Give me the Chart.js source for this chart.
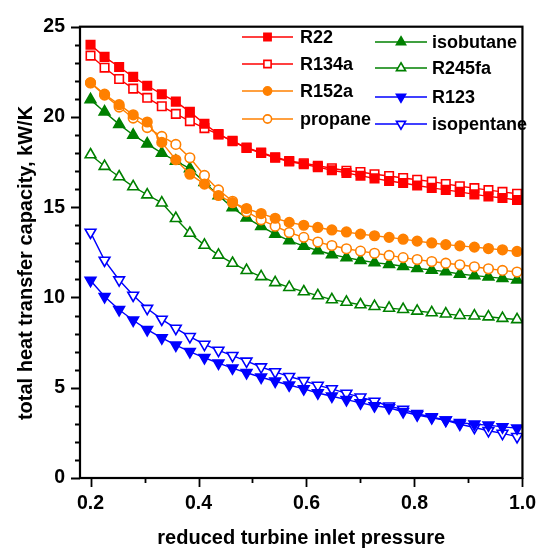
<!DOCTYPE html>
<html>
<head>
<meta charset="utf-8">
<script src="https://cdn.jsdelivr.net/npm/chart.js@4/dist/chart.umd.min.js"></script>
<style>
  html, body { margin: 0; padding: 0; background: #fff; }
  #wrap { width: 550px; height: 551px; }
</style>
</head>
<body>
<div id="wrap"><canvas id="ht_chart" width="550" height="551"></canvas></div>
<script>
// reduced turbine inlet pressure
const pressure = [0.200, 0.226, 0.253, 0.279, 0.305, 0.332, 0.358, 0.384, 0.411, 0.437,
  0.463, 0.489, 0.516, 0.542, 0.568, 0.595, 0.621, 0.647, 0.674, 0.700,
  0.726, 0.753, 0.779, 0.805, 0.832, 0.858, 0.884, 0.911, 0.937, 0.963, 0.990];

// total heat transfer capacity, kW/K
const r22 = [24.0, 23.33, 22.77, 22.22, 21.73, 21.26, 20.85, 20.28, 19.62, 19.05,
  18.65, 18.28, 18.0, 17.74, 17.53, 17.38, 17.22, 17.05, 16.9, 16.74,
  16.6, 16.45, 16.34, 16.2, 16.07, 15.96, 15.85, 15.71, 15.6, 15.51, 15.4];
const r134a = [23.4, 22.73, 22.1, 21.57, 21.06, 20.59, 20.17, 19.77, 19.38, 19.03,
  18.68, 18.3, 18.03, 17.77, 17.56, 17.44, 17.3, 17.16, 17.02, 16.95,
  16.83, 16.73, 16.62, 16.52, 16.42, 16.29, 16.16, 16.06, 15.95, 15.85, 15.75];
const r152a = [21.9, 21.26, 20.68, 20.12, 19.72, 18.59, 17.63, 16.83, 16.28, 15.65,
  15.25, 14.93, 14.65, 14.39, 14.16, 14.0, 13.88, 13.74, 13.63, 13.51,
  13.42, 13.33, 13.23, 13.12, 13.02, 12.93, 12.86, 12.79, 12.71, 12.64, 12.55];
const propane = [21.88, 21.21, 20.55, 19.94, 19.41, 18.92, 18.48, 17.74, 16.76, 15.96,
  15.33, 14.75, 14.3, 13.95, 13.6, 13.33, 13.07, 12.88, 12.7, 12.57,
  12.45, 12.33, 12.21, 12.1, 11.99, 11.9, 11.81, 11.7, 11.59, 11.5, 11.41];
const isobutane = [20.96, 20.28, 19.59, 19.0, 18.51, 18.0, 17.56, 17.14, 16.38, 15.65,
  14.98, 14.41, 13.94, 13.51, 13.15, 12.85, 12.6, 12.38, 12.21, 12.06,
  11.93, 11.84, 11.73, 11.61, 11.52, 11.43, 11.3, 11.21, 11.14, 11.06, 10.97];
const r245fa = [17.91, 17.27, 16.69, 16.14, 15.69, 15.24, 14.38, 13.56, 12.9, 12.35,
  11.9, 11.5, 11.16, 10.83, 10.56, 10.32, 10.1, 9.88, 9.74, 9.6,
  9.51, 9.41, 9.34, 9.25, 9.16, 9.09, 9.01, 8.98, 8.93, 8.85, 8.78];
const r123 = [10.94, 10.05, 9.32, 8.74, 8.22, 7.76, 7.36, 7.0, 6.66, 6.36,
  6.09, 5.83, 5.58, 5.36, 5.15, 4.94, 4.71, 4.53, 4.34, 4.16,
  4.0, 3.89, 3.67, 3.49, 3.34, 3.2, 3.07, 2.98, 2.93, 2.83, 2.76];
const isopentane = [13.61, 12.06, 10.97, 10.12, 9.39, 8.79, 8.29, 7.83, 7.4, 7.07,
  6.78, 6.47, 6.15, 5.88, 5.62, 5.39, 5.13, 4.94, 4.69, 4.48,
  4.25, 3.98, 3.8, 3.56, 3.38, 3.2, 2.98, 2.8, 2.62, 2.47, 2.29];

const x_ticks = [0.2, 0.4, 0.6, 0.8, 1.0];
const y_ticks = [0, 5, 10, 15, 20, 25];

const FONT = "'Liberation Sans', Arial, sans-serif";
const RED = "#ff0000", ORANGE = "#ff8000", GREEN = "#008000", BLUE = "#0000ff";

function series(label, values, color, style, filled, rotation) {
  return {
    label: label,
    data: values.map((v, i) => ({ x: pressure[i], y: v })),
    borderColor: color,
    backgroundColor: filled ? color : "#ffffff",
    pointBackgroundColor: filled ? color : "#ffffff",
    pointBorderColor: color,
    pointStyle: style,
    pointRotation: rotation || 0,
    pointRadius: style === "rect" ? 6 : (style === "circle" ? 4.8 : 6.2),
    pointBorderWidth: 1.6,
    borderWidth: 1.4,
    tension: 0,
  };
}

const datasets = [
  series("R22", r22, RED, "rect", true),
  series("R134a", r134a, RED, "rect", false),
  series("R152a", r152a, ORANGE, "circle", true),
  series("propane", propane, ORANGE, "circle", false),
  series("isobutane", isobutane, GREEN, "triangle", true),
  series("R245fa", r245fa, GREEN, "triangle", false),
  series("R123", r123, BLUE, "triangle", true, 180),
  series("isopentane", isopentane, BLUE, "triangle", false, 180),
];

// frame, tick marks, axis titles and the two-column legend
const decor = {
  id: "decor",
  afterDraw(chart) {
    const ctx = chart.ctx;
    const a = chart.chartArea;
    const xs = chart.scales.x, ys = chart.scales.y;
    ctx.save();
    ctx.strokeStyle = "#000";
    ctx.lineWidth = 2.2;
    ctx.strokeRect(a.left, a.top, a.right - a.left, a.bottom - a.top);

    ctx.lineWidth = 1.8;
    ctx.beginPath();
    for (let v = 0; v <= 25; v++) {
      const y = Math.round(ys.getPixelForValue(v)) + 0.5;
      const len = v % 5 === 0 ? 9 : 5;
      ctx.moveTo(a.left, y);
      ctx.lineTo(a.left - len, y);
    }
    for (let k = 2; k <= 10; k++) {
      const x = Math.round(xs.getPixelForValue(k / 10)) + 0.5;
      const len = k % 2 === 0 ? 9 : 5;
      ctx.moveTo(x, a.bottom);
      ctx.lineTo(x, a.bottom + len);
    }
    ctx.stroke();

    ctx.fillStyle = "#000";
    ctx.font = "bold 20px " + FONT;
    ctx.textAlign = "center";
    ctx.textBaseline = "middle";
    ctx.fillText("reduced turbine inlet pressure", (a.left + a.right) / 2, 538);
    ctx.save();
    ctx.translate(26, 263);
    ctx.rotate(-Math.PI / 2);
    ctx.fillText("total heat transfer capacity, kW/K", 0, 0);
    ctx.restore();

    // legend
    const cols = [
      { x0: 242, x1: 293, tx: 300, rows: [37, 64, 91, 119] },
      { x0: 375, x1: 427, tx: 432, rows: [42, 68, 97, 124] },
    ];
    ctx.font = "bold 18px " + FONT;
    ctx.textAlign = "left";
    chart.data.datasets.forEach((ds, i) => {
      const c = cols[Math.floor(i / 4)];
      const y = c.rows[i % 4];
      ctx.strokeStyle = ds.borderColor;
      ctx.lineWidth = ds.borderWidth;
      ctx.beginPath();
      ctx.moveTo(c.x0, y);
      ctx.lineTo(c.x1, y);
      ctx.stroke();
      ctx.fillStyle = ds.pointBackgroundColor;
      ctx.strokeStyle = ds.pointBorderColor;
      ctx.lineWidth = ds.pointBorderWidth;
      Chart.helpers.drawPoint(ctx, {
        pointStyle: ds.pointStyle,
        rotation: ds.pointRotation,
        radius: ds.pointRadius * 0.85,
        borderWidth: ds.pointBorderWidth,
      }, (c.x0 + c.x1) / 2, y);
      ctx.fillStyle = "#000";
      ctx.fillText(ds.label, c.tx, y + 1);
    });
    ctx.restore();
  },
};

const ht_chart = new Chart(document.getElementById("ht_chart"), {
  type: "line",
  data: { datasets: datasets },
  options: {
    responsive: false,
    animation: false,
    layout: { padding: { top: 19, right: 21, left: 0, bottom: 0 } },
    plugins: {
      legend: { display: false },
      tooltip: { enabled: false },
    },
    scales: {
      x: {
        type: "linear",
        min: 0.1805,
        max: 1.0,
        afterFit: (s) => { s.height = 73; },
        afterBuildTicks: (s) => { s.ticks = x_ticks.map(v => ({ value: v })); },
        grid: { display: false, drawTicks: false },
        border: { display: false },
        ticks: {
          padding: 14,
          color: "#000",
          font: { family: FONT, size: 19.5, weight: "bold" },
          callback: (v) => Number(v).toFixed(1),
          maxRotation: 0,
        },
      },
      y: {
        min: 0,
        max: 25,
        afterFit: (s) => { s.width = 80; },
        afterBuildTicks: (s) => { s.ticks = y_ticks.map(v => ({ value: v })); },
        grid: { display: false, drawTicks: false },
        border: { display: false },
        ticks: {
          padding: 15,
          color: "#000",
          font: { family: FONT, size: 19.5, weight: "bold" },
          callback: (v) => String(v),
        },
      },
    },
  },
  plugins: [decor],
});
</script>
</body>
</html>
